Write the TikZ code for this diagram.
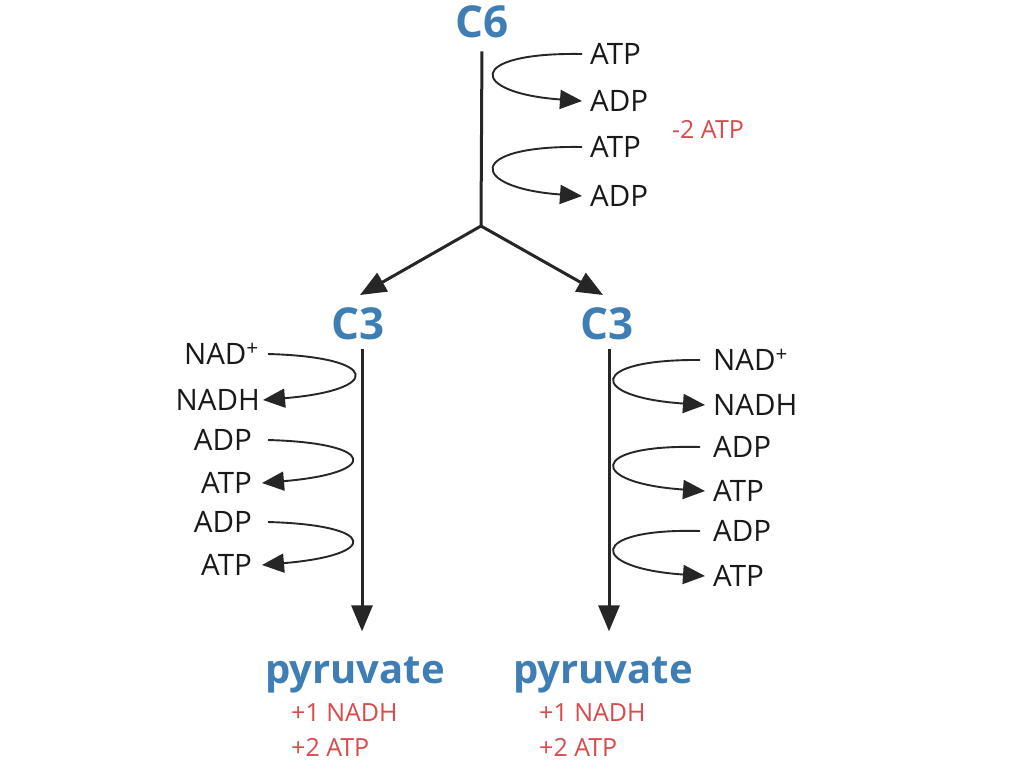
\documentclass[tikz,border=0pt]{standalone}
\usepackage{fontspec}
\setmainfont{Open Sans}
\usetikzlibrary{arrows.meta}
\definecolor{cblue}{HTML}{3F7DB5}
\definecolor{cred}{HTML}{D94A4A}
\begin{document}
\begin{tikzpicture}[x=1pt,y=-1pt,
  lbl/.style={font=\fontsize{29.5}{30}\selectfont, inner sep=3pt, text=black!90},
  big/.style={font=\fontsize{40}{42}\selectfont\bfseries, text=cblue, inner sep=3pt},
  cnum/.style={big, font=\fontsize{44}{46}\selectfont\bfseries},
  gain/.style={font=\fontsize{25}{26}\selectfont, text=cred, inner sep=1pt},
  main/.style={line width=3pt, draw=black!85},
  mainarr/.style={main, -{Triangle[length=26pt,width=21pt]}},
  cyc/.style={line width=1.9pt, draw=black!85, -{Triangle[length=22pt,width=19pt]}}]
\fill[white] (0,0) rectangle (1024,768);
\useasboundingbox (0,0) rectangle (1024,768);

% main nodes
\node[cnum] (c6) at (482,22) {C6};
\coordinate (j) at (481,226);
\node[cnum] (c3l) at (358,324) {C3};
\node[cnum] (c3r) at (607,324) {C3};
\coordinate (tl) at (360,295);
\coordinate (tr) at (603,295);
\node[big, anchor=base] (pl) at (355,683) {pyruvate};
\node[big, anchor=base] (pr) at (603,683) {pyruvate};

% main connectors
\draw[main, shorten <=10pt] (c6.south) -- (j);
\draw[mainarr] (j) -- (tl);
\draw[mainarr] (j) -- (tr);
\draw[mainarr, shorten <=6pt, shorten >=22pt] ([xshift=4pt]c3l.south) -- ([xshift=7pt]pl.north);
\draw[mainarr, shorten <=6pt, shorten >=22pt] ([xshift=2pt]c3r.south) -- ([xshift=6pt]pr.north);

% top labels
\node[lbl, anchor=west] (atp1) at (587,54) {ATP};
\node[lbl, anchor=west] (adp1) at (587,101) {ADP};
\node[lbl, anchor=west] (atp2) at (587,147) {ATP};
\node[lbl, anchor=west] (adp2) at (587,196) {ADP};
\node[gain] (loss) at (708,129) {-2 ATP};

\draw[cyc] ([xshift=-5pt]atp1.west) .. controls +(-118,-2) and +(-113,-8) .. ([xshift=-5pt]adp1.west);
\draw[cyc] ([xshift=-5pt]atp2.west) .. controls +(-118,-2) and +(-113,-8) .. ([xshift=-5pt]adp2.west);

% left labels
\node[lbl, anchor=east] (nadl) at (262,354) {NAD\textsuperscript{+}};
\node[lbl, anchor=east] (nadhl) at (263,400) {NADH};
\node[lbl, anchor=east] (adpl1) at (255,440) {ADP};
\node[lbl, anchor=east] (atpl1) at (255,483) {ATP};
\node[lbl, anchor=east] (adpl2) at (255,522) {ADP};
\node[lbl, anchor=east] (atpl2) at (255,565) {ATP};

\draw[cyc] ([xshift=6pt]nadl.east) .. controls +(113,3) and +(120,-10) .. ([xshift=0pt]nadhl.east);
\draw[cyc] ([xshift=13pt]adpl1.east) .. controls +(110,3) and +(118,-10) .. ([xshift=7pt]atpl1.east);
\draw[cyc] ([xshift=13pt]adpl2.east) .. controls +(110,3) and +(118,-10) .. ([xshift=7pt]atpl2.east);

% right labels
\node[lbl, anchor=west] (nadr) at (710,360) {NAD\textsuperscript{+}};
\node[lbl, anchor=west] (nadhr) at (710,405) {NADH};
\node[lbl, anchor=west] (adpr1) at (710,447) {ADP};
\node[lbl, anchor=west] (atpr1) at (710,491) {ATP};
\node[lbl, anchor=west] (adpr2) at (710,531) {ADP};
\node[lbl, anchor=west] (atpr2) at (710,576) {ATP};

\draw[cyc] ([xshift=-10pt]nadr.west) .. controls +(-113,-1) and +(-118,-8) .. ([xshift=-5pt]nadhr.west);
\draw[cyc] ([xshift=-10pt]adpr1.west) .. controls +(-113,-3) and +(-118,-8) .. ([xshift=-5pt]atpr1.west);
\draw[cyc] ([xshift=-10pt]adpr2.west) .. controls +(-113,-3) and +(-118,-8) .. ([xshift=-5pt]atpr2.west);

% gains
\node[gain, anchor=west] (g1l) at (290,713) {+1 NADH};
\node[gain, anchor=west] (g2l) at (290,747) {+2 ATP};
\node[gain, anchor=west] (g1r) at (538,713) {+1 NADH};
\node[gain, anchor=west] (g2r) at (538,747) {+2 ATP};
\end{tikzpicture}
\end{document}
